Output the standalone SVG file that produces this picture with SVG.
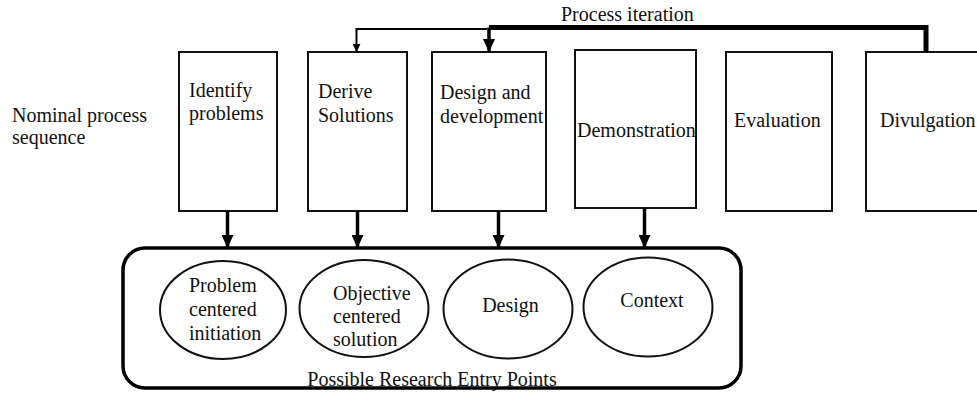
<svg xmlns="http://www.w3.org/2000/svg" width="977" height="393" viewBox="0 0 977 393">
  <style>
    text { font-family: 'Liberation Serif', 'Times New Roman', 'DejaVu Serif', serif; font-size: 20px; fill: #111; }
    .box { fill: #fff; stroke: #111; stroke-width: 2; }
    .ell { fill: #fff; stroke: #111; stroke-width: 2; }
    .frame { fill: none; stroke: #000; stroke-width: 3.5; }
    .thick { fill: none; stroke: #000; stroke-width: 3.5; }
    .heavy { fill: none; stroke: #000; stroke-width: 5; }
    .thin { fill: none; stroke: #000; stroke-width: 2; }
    .mid { text-anchor: middle; }
  </style>
  <defs>
    <!-- arrowheads drawn along +x so orient="auto" turns them with the line -->
    <marker id="head-big" markerUnits="userSpaceOnUse" markerWidth="13" markerHeight="12" viewBox="0 0 13 12" refX="13" refY="6" orient="auto">
      <path d="M0,0 L13,6 L0,12 Z" fill="#000"/>
    </marker>
    <marker id="head-small" markerUnits="userSpaceOnUse" markerWidth="8" markerHeight="8" viewBox="0 0 8 8" refX="8" refY="4" orient="auto">
      <path d="M0,0 L8,4 L0,8 Z" fill="#000"/>
    </marker>
  </defs>

  <g font-family="Liberation Serif, Times New Roman, serif">
    <text x="12" y="122">Nominal process</text>
    <text x="12" y="144">sequence</text>
    <text x="561" y="21">Process iteration</text>
  </g>

  <!-- process steps -->
  <g id="identify-problems">
    <rect class="box" x="179" y="52" width="98" height="159"/>
    <text x="189" y="97">Identify</text>
    <text x="189" y="120">problems</text>
  </g>
  <g id="derive-solutions">
    <rect class="box" x="308" y="52" width="99" height="159"/>
    <text x="318" y="98">Derive</text>
    <text x="318" y="122">Solutions</text>
  </g>
  <g id="design-development">
    <rect class="box" x="432" y="52" width="114" height="159"/>
    <text x="440" y="99">Design and</text>
    <text x="440" y="123">development</text>
  </g>
  <g id="demonstration">
    <rect class="box" x="575" y="50" width="121" height="158"/>
    <text x="577" y="137">Demonstration</text>
  </g>
  <g id="evaluation">
    <rect class="box" x="726" y="52" width="106" height="159"/>
    <text x="734" y="127">Evaluation</text>
  </g>
  <g id="divulgation">
    <rect class="box" x="866" y="52" width="130" height="159"/>
    <text x="880" y="127">Divulgation</text>
  </g>

  <!-- entry points -->
  <g id="entry-points">
    <rect class="frame" x="123" y="248" width="618" height="140" rx="22" ry="22"/>
    <text class="mid" x="432" y="386">Possible Research Entry Points</text>
  </g>
  <g id="problem-centered">
    <ellipse class="ell" cx="223" cy="310" rx="63" ry="49"/>
    <text x="189" y="292">Problem</text>
    <text x="189" y="316">centered</text>
    <text x="189" y="340">initiation</text>
  </g>
  <g id="objective-centered">
    <ellipse class="ell" cx="364" cy="308.5" rx="64.5" ry="48.5"/>
    <text x="333" y="300">Objective</text>
    <text x="333" y="323">centered</text>
    <text x="333" y="346">solution</text>
  </g>
  <g id="design">
    <ellipse class="ell" cx="508" cy="309" rx="64.5" ry="49.5"/>
    <text class="mid" x="510.5" y="312">Design</text>
  </g>
  <g id="context">
    <ellipse class="ell" cx="648" cy="307" rx="64.5" ry="49.5"/>
    <text class="mid" x="652" y="307">Context</text>
  </g>

  <!-- connectors -->
  <g id="connectors">
    <path class="heavy" d="M926,52 V27.5 H489"/>
    <path class="thick" d="M489,27.5 V52" marker-end="url(#head-big)"/>
    <path class="thin" d="M487,29 H356.5 V52" marker-end="url(#head-small)"/>
    <path class="thick" d="M227.5,211 V248" marker-end="url(#head-big)"/>
    <path class="thick" d="M357.5,211 V248" marker-end="url(#head-big)"/>
    <path class="thick" d="M498.5,211 V248" marker-end="url(#head-big)"/>
    <path class="thick" d="M644.5,208 V248" marker-end="url(#head-big)"/>
  </g>
</svg>
